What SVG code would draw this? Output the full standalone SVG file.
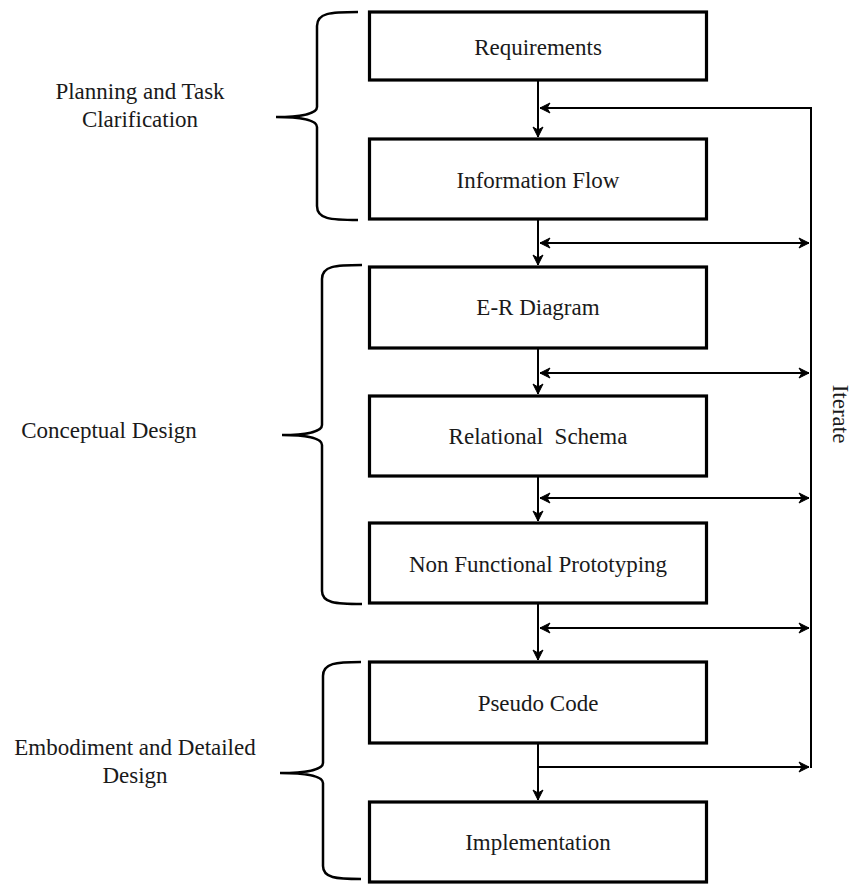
<svg xmlns="http://www.w3.org/2000/svg" width="854" height="884" viewBox="0 0 854 884">
<style>
.box{fill:#fff;stroke:#000;stroke-width:3.2}
.lbl{font-family:"Liberation Serif","Times New Roman",serif;font-size:23px;fill:#1a1a1a;text-anchor:middle}
.con{fill:none;stroke:#000;stroke-width:2}
.brace{fill:none;stroke:#000;stroke-width:2.5}
</style>
<defs>
<marker id="ah" markerUnits="userSpaceOnUse" viewBox="-12 -7 14 14" refX="0" refY="0" markerWidth="14" markerHeight="14" orient="auto-start-reverse">
<path d="M0,0 L-10,-5 L-7,0 L-10,5 Z" fill="#000" stroke="#000" stroke-width="1"/>
</marker>
</defs>
<rect width="854" height="884" fill="#fff"/>

<g id="connectors">
<line class="con" x1="538" y1="81" x2="538" y2="137" marker-end="url(#ah)"/>
<line class="con" x1="538" y1="220" x2="538" y2="265" marker-end="url(#ah)"/>
<line class="con" x1="538" y1="349" x2="538" y2="394" marker-end="url(#ah)"/>
<line class="con" x1="538" y1="477" x2="538" y2="521" marker-end="url(#ah)"/>
<line class="con" x1="538" y1="604" x2="538" y2="660" marker-end="url(#ah)"/>
<line class="con" x1="538" y1="744" x2="538" y2="800" marker-end="url(#ah)"/>
<path class="con" d="M811,768 L811,108 L540,108" marker-end="url(#ah)"/>
<line class="con" x1="540" y1="243" x2="809" y2="243" marker-start="url(#ah)" marker-end="url(#ah)"/>
<line class="con" x1="540" y1="373" x2="809" y2="373" marker-start="url(#ah)" marker-end="url(#ah)"/>
<line class="con" x1="540" y1="498" x2="809" y2="498" marker-start="url(#ah)" marker-end="url(#ah)"/>
<line class="con" x1="540" y1="628" x2="809" y2="628" marker-start="url(#ah)" marker-end="url(#ah)"/>
<line class="con" x1="538" y1="767" x2="809" y2="767" marker-end="url(#ah)"/>
</g>

<g id="n-requirements"><rect class="box" x="369.5" y="12" width="337" height="68"/><text class="lbl" x="538" y="55">Requirements</text></g>
<g id="n-information-flow"><rect class="box" x="369.5" y="139" width="337" height="80"/><text class="lbl" x="538" y="188">Information Flow</text></g>
<g id="n-er-diagram"><rect class="box" x="369.5" y="267" width="337" height="81"/><text class="lbl" x="538" y="315">E-R Diagram</text></g>
<g id="n-relational-schema"><rect class="box" x="369.5" y="396" width="337" height="80"/><text class="lbl" x="538" y="444" xml:space="preserve">Relational  Schema</text></g>
<g id="n-nonfunctional"><rect class="box" x="369.5" y="523" width="337" height="80"/><text class="lbl" x="538" y="572">Non Functional Prototyping</text></g>
<g id="n-pseudo-code"><rect class="box" x="369.5" y="662" width="337" height="81"/><text class="lbl" x="538" y="711">Pseudo Code</text></g>
<g id="n-implementation"><rect class="box" x="369.5" y="802" width="337" height="80"/><text class="lbl" x="538" y="850">Implementation</text></g>

<g id="g-planning">
<path class="brace" d="M358,12 C330,12 317,13 317,26 L317,107 C317,114 300,117 276,117 C300,117 317,120 317,127 L317,206 C317,219 330,220 358,220"/>
<text class="lbl" x="140" y="99">Planning and Task</text>
<text class="lbl" x="140" y="127">Clarification</text>
</g>
<g id="g-conceptual">
<path class="brace" d="M362,265 C335,265 322,266 322,279 L322,425 C322,432 305,435 282,435 C305,435 322,438 322,445 L322,591 C322,603 335,604 362,604"/>
<text class="lbl" x="109" y="438">Conceptual Design</text>
</g>
<g id="g-embodiment">
<path class="brace" d="M361,662 C336,662 323,663 323,676 L323,763 C323,770 305,773 280,773 C305,773 323,776 323,783 L323,866 C323,878 336,879 361,879"/>
<text class="lbl" x="135" y="755">Embodiment and Detailed</text>
<text class="lbl" x="135" y="783">Design</text>
</g>
<g id="iterate-label">
<text class="lbl" x="833" y="414" transform="rotate(90 833 414)">Iterate</text>
</g>
</svg>
